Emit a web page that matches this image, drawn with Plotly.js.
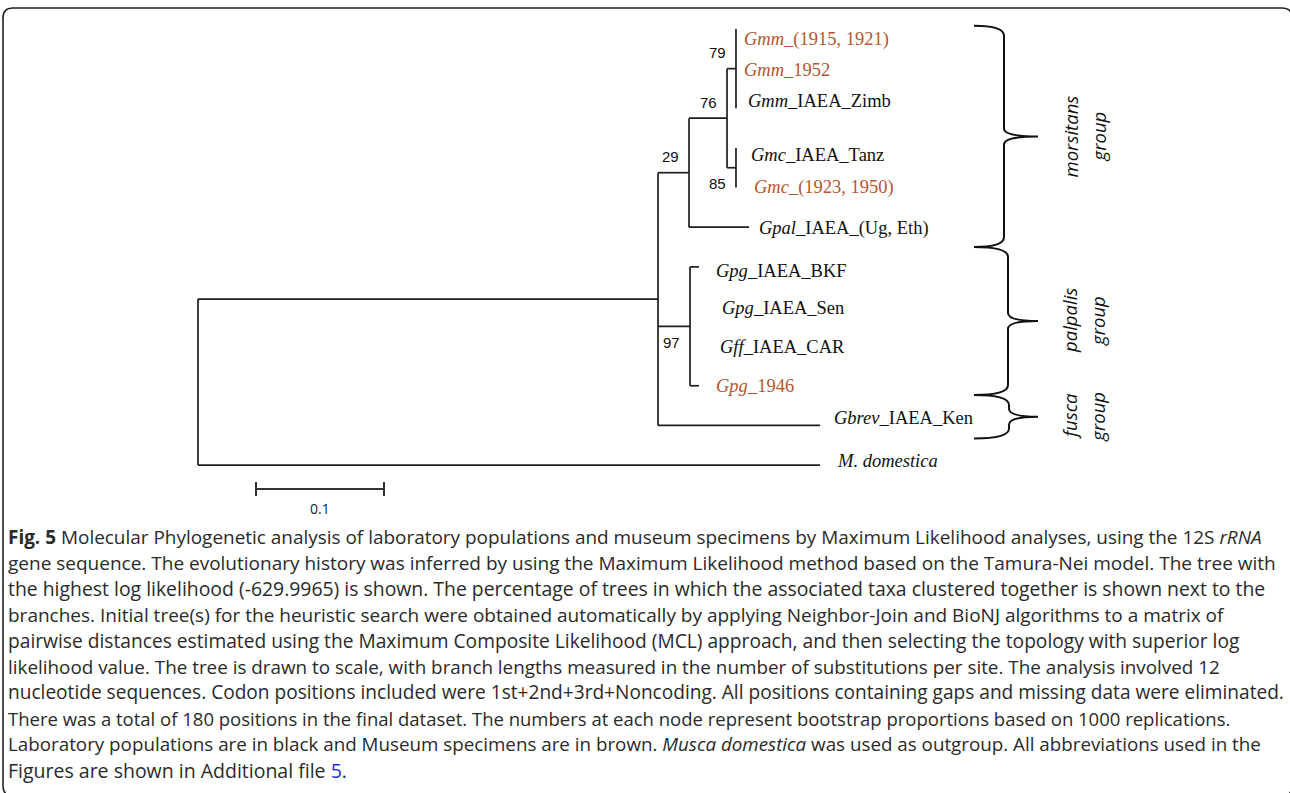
<!DOCTYPE html>
<html><head><meta charset="utf-8">
<script src="https://cdn.plot.ly/plotly-3.0.1.min.js"></script>
<style>html,body{margin:0;padding:0;background:#fff;overflow:hidden}#chart{width:1290px;height:793px}</style>
</head><body><div id="chart"></div>
<script>
// ---------------- tree data ----------------
const nodeIds = ["root","A","B","C","D","E","F",
  "Gmm_1915_1921","Gmm_1952","Gmm_Zimb","Gmc_Tanz","Gmc_1923_1950","Gpal",
  "Gpg_BKF","Gpg_Sen","Gff_CAR","Gpg_1946","Gbrev","Mdom"];
const parentIds = [null,"root","A","B","C","C","A",
  "D","D","D","E","E","B",
  "F","F","F","F","A","root"];
const branchLengths = [0,0.3594,0.0242,0.0297,0.0070,0.0070,0.0250,
  0,0,0,0,0,0.0469,
  0.0070,0,0,0.0070,0.1266,0.4859];

// taxa (top to bottom)
const taxonItalic = ["Gmm","Gmm","Gmm","Gmc","Gmc","Gpal","Gpg","Gpg","Gff","Gpg","Gbrev","M. domestica"];
const taxonSuffix = ["_(1915, 1921)","_1952","_IAEA_Zimb","_IAEA_Tanz","_(1923, 1950)","_IAEA_(Ug, Eth)",
  "_IAEA_BKF","_IAEA_Sen","_IAEA_CAR","_1946","_IAEA_Ken",""];
const sampleType = ["museum","museum","lab","lab","museum","lab","lab","lab","lab","museum","lab","lab"];

// bootstrap support
const bootNodes = ["D","C","E","B","F"];
const bootValues = [79,76,85,29,97];

// groups
const groupNames = ["morsitans","palpalis","fusca"];

// scale bar
const scaleLength = 0.1;
const scaleLabel = "0.1";

// caption
const captionLines = [
  "<b>Fig. 5</b> Molecular Phylogenetic analysis of laboratory populations and museum specimens by Maximum Likelihood analyses, using the 12S <i>rRNA</i>",
  "gene sequence. The evolutionary history was inferred by using the Maximum Likelihood method based on the Tamura-Nei model. The tree with",
  "the highest log likelihood (-629.9965) is shown. The percentage of trees in which the associated taxa clustered together is shown next to the",
  "branches. Initial tree(s) for the heuristic search were obtained automatically by applying Neighbor-Join and BioNJ algorithms to a matrix of",
  "pairwise distances estimated using the Maximum Composite Likelihood (MCL) approach, and then selecting the topology with superior log",
  "likelihood value. The tree is drawn to scale, with branch lengths measured in the number of substitutions per site. The analysis involved 12",
  "nucleotide sequences. Codon positions included were 1st+2nd+3rd+Noncoding. All positions containing gaps and missing data were eliminated.",
  "There was a total of 180 positions in the final dataset. The numbers at each node represent bootstrap proportions based on 1000 replications.",
  "Laboratory populations are in black and Museum specimens are in brown. <i>Musca domestica</i> was used as outgroup. All abbreviations used in the",
  "Figures are shown in Additional file <span style=\"color:#2233dd\">5</span>."
];

// ---------------- layout / style (not data) ----------------
const W = 1290, H = 793;
const X0 = 198, PXU = 1280;      // root pixel, pixels per substitution unit
const ROW0 = 29, ROWH = 39.64;    // first leaf row pixel, row height
const labelShiftX = [6,6,10,13,16,8,15,30,28,15,12,15];
const labelShiftY = [10,1,-7,7,0,1,4,2,1,0,-7,-4];
const bootSide = [-1,-1,1,-1,1];
const braceSpans = [[-0.08,5.5],[5.5,9.23],[9.23,10.33]];
const braceSpine = [1004,1008,1009];
const captionSize = [18.95,19,19.4,19,19.2,18.85,19.1,18.5,18.8,19.5];
const colors = {lab:"#111111", museum:"#b5562f"};

const px2x = p => (p - X0) / PXU;
const py2y = p => (p - ROW0) / ROWH;
const y2py = r => ROW0 + r * ROWH;

// ---------------- compute tree geometry ----------------
const idx = {}; nodeIds.forEach((n,i)=>idx[n]=i);
const children = nodeIds.map(()=>[]);
parentIds.forEach((p,i)=>{ if(p!==null) children[idx[p]].push(i); });
const nx = new Array(nodeIds.length), ny = new Array(nodeIds.length);
let leafCounter = 0; const leafOrder = [];
function walk(i, xParent){
  nx[i] = xParent + branchLengths[i];
  if(children[i].length===0){ ny[i] = leafCounter++; leafOrder.push(i); }
  else{
    children[i].forEach(c=>walk(c, nx[i]));
    const cs = children[i];
    ny[i] = (ny[cs[0]] + ny[cs[cs.length-1]]) / 2;
  }
}
walk(0, 0);

const lx = [], ly = [];
nodeIds.forEach((n,i)=>{
  if(parentIds[i]!==null){
    const p = idx[parentIds[i]];
    lx.push(nx[p], nx[i], null); ly.push(ny[i], ny[i], null);
  }
  if(children[i].length){
    const cs = children[i];
    lx.push(nx[i], nx[i], null); ly.push(ny[cs[0]], ny[cs[cs.length-1]], null);
  }
});

const traces = [{
  type:"scatter", mode:"lines", x:lx, y:ly, hoverinfo:"skip",
  line:{color:"#1e1e1e", width:1.7}, showlegend:false
}];

// scale bar
const sbx0 = px2x(256), sby = py2y(489), tick = 7/ROWH;
traces.push({
  type:"scatter", mode:"lines", hoverinfo:"skip", showlegend:false,
  x:[sbx0, sbx0+scaleLength, null, sbx0, sbx0, null, sbx0+scaleLength, sbx0+scaleLength],
  y:[sby, sby, null, sby-tick, sby+tick, null, sby-tick, sby+tick],
  line:{color:"#333333", width:2}
});

const annotations = [];
// taxon labels
leafOrder.forEach((ni,k)=>{
  annotations.push({
    x:nx[ni], y:ny[ni], xref:"x", yref:"y", xanchor:"left", yanchor:"middle",
    xshift:labelShiftX[k], yshift:-labelShiftY[k], showarrow:false,
    text: taxonSuffix[k] ? "<i>"+taxonItalic[k]+"</i>"+taxonSuffix[k] : "<i>"+taxonItalic[k]+"</i>",
    font:{family:"Liberation Serif, Times New Roman, serif", size:18.5, color:colors[sampleType[k]]}
  });
});
// bootstrap
bootNodes.forEach((n,k)=>{
  const i = idx[n];
  annotations.push({
    x:nx[i], y:ny[i], xref:"x", yref:"y", xanchor:"right", yanchor:"middle",
    xshift:-8, yshift:-bootSide[k]*16, showarrow:false, text:String(bootValues[k]),
    font:{family:"Liberation Sans, Arial, sans-serif", size:15, color:"#111"}
  });
});
// scale label
annotations.push({x:sbx0+scaleLength/2, y:py2y(508), xref:"x", yref:"y", showarrow:false,
  text:scaleLabel, font:{family:"Open Sans, sans-serif", size:14, color:"#222"}});

// braces and group labels
const shapes = [];
groupNames.forEach((g,k)=>{
  const t = y2py(braceSpans[k][0]), b = y2py(braceSpans[k][1]), m = (t+b)/2;
  const s = braceSpine[k], e = 974, p = 1038;
  const P = (a,c)=> px2x(a)+","+py2y(c);
  const path = "M"+P(e,t)+" Q"+P(s,t)+" "+P(s,t+10)+" L"+P(s,m-8)+
    " Q"+P(s,m)+" "+P(p,m)+" Q"+P(s,m)+" "+P(s,m+8)+" L"+P(s,b-10)+
    " Q"+P(s,b)+" "+P(e,b);
  shapes.push({type:"path", xref:"x", yref:"y", path:path, line:{color:"#111", width:2}});
  annotations.push({x:px2x(1070), y:py2y(m), xref:"x", yref:"y", textangle:-90, showarrow:false,
    text:"<i>"+g+"</i>", font:{family:"Open Sans, sans-serif", size:18.5, color:"#111"}});
  annotations.push({x:px2x(1098), y:py2y(m), xref:"x", yref:"y", textangle:-90, showarrow:false,
    text:"<i>group</i>", font:{family:"Open Sans, sans-serif", size:18.5, color:"#111"}});
});

// caption
captionLines.forEach((line,k)=>{
  annotations.push({x:6/W, y:1-(537+k*25.9)/H, xref:"paper", yref:"paper",
    xanchor:"left", yanchor:"middle", showarrow:false, align:"left", text:line,
    font:{family:"Open Sans, sans-serif", size:captionSize[k], color:"#2a2a2a"}});
});

// rounded frame
const fx0=3, fy0=8, fx1=1292, fy1=796, r=10;
const PX = (a,c)=> (a/W)+","+(1-c/H);
shapes.push({type:"path", xref:"paper", yref:"paper", line:{color:"#222", width:1.6},
  path:"M"+PX(fx0+r,fy0)+" L"+PX(fx1-r,fy0)+" Q"+PX(fx1,fy0)+" "+PX(fx1,fy0+r)+
    " L"+PX(fx1,fy1-r)+" Q"+PX(fx1,fy1)+" "+PX(fx1-r,fy1)+" L"+PX(fx0+r,fy1)+
    " Q"+PX(fx0,fy1)+" "+PX(fx0,fy1-r)+" L"+PX(fx0,fy0+r)+" Q"+PX(fx0,fy0)+" "+PX(fx0+r,fy0)+" Z"});

const layout = {
  width:W, height:H, margin:{l:0,r:0,t:0,b:0}, paper_bgcolor:"#fff", plot_bgcolor:"#fff",
  xaxis:{range:[px2x(0), px2x(W)], visible:false, fixedrange:true},
  yaxis:{range:[py2y(H), py2y(0)], visible:false, fixedrange:true},
  annotations:annotations, shapes:shapes, showlegend:false
};
Plotly.newPlot("chart", traces, layout, {staticPlot:true, displayModeBar:false});
</script></body></html>
